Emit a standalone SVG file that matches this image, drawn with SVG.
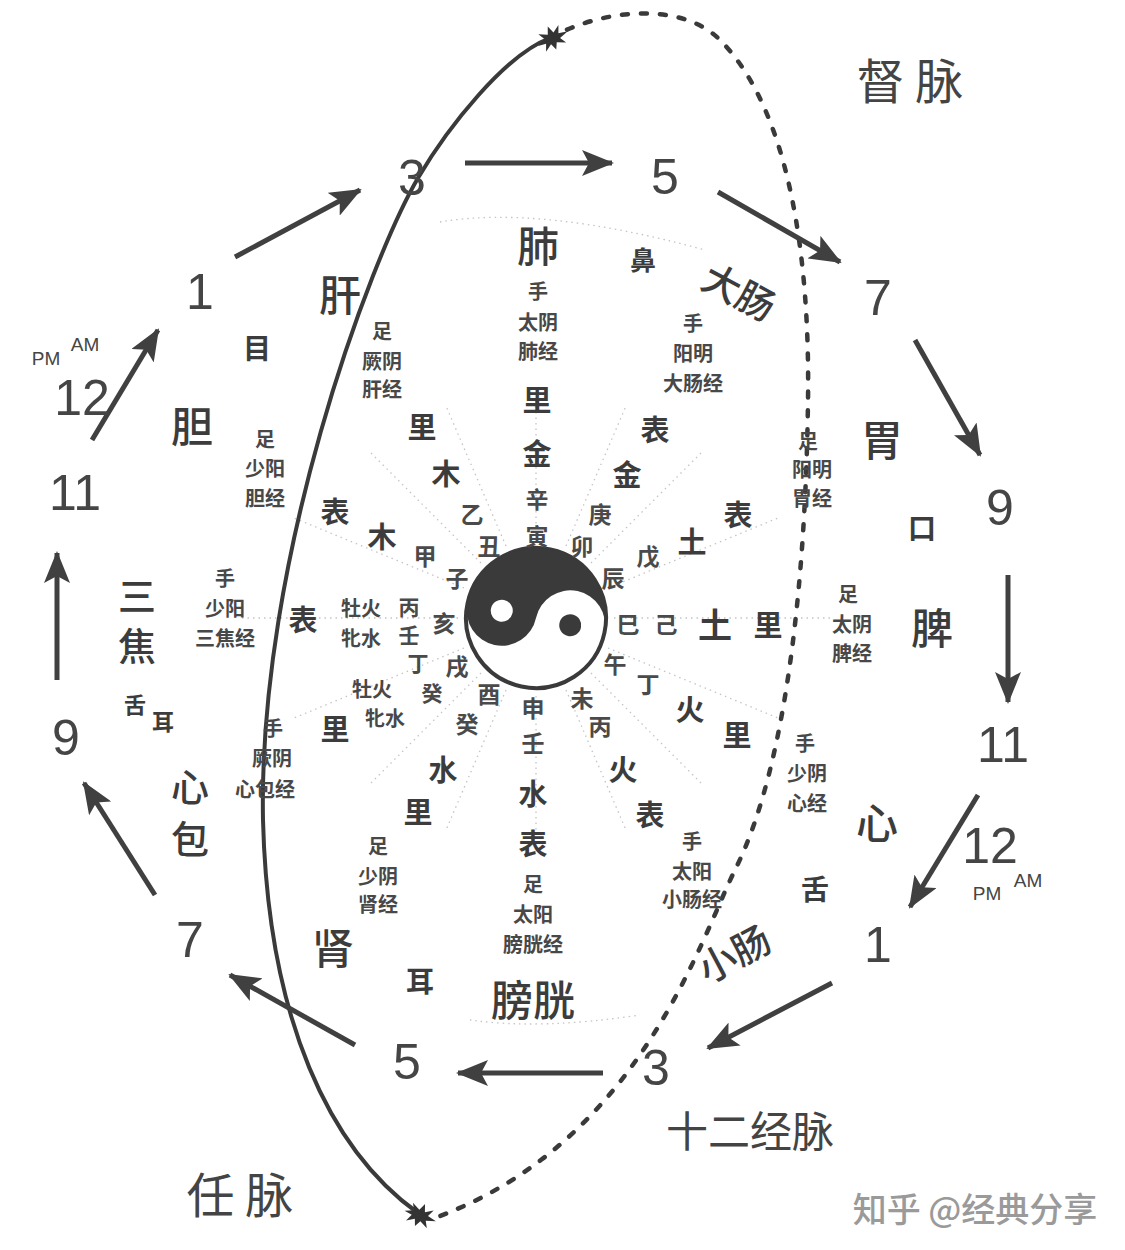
<svg xmlns="http://www.w3.org/2000/svg" width="1125" height="1250" viewBox="0 0 1125 1250">
<defs>
<style>
text{font-family:"Noto Sans CJK SC","Noto Sans",sans-serif;fill:#3c3c3c;text-anchor:middle;dominant-baseline:central}
.n{font-family:"Liberation Sans",Arial,sans-serif;font-size:50px;fill:#454545}
.ap{font-family:"Liberation Sans",Arial,sans-serif;font-size:19px;fill:#454545}
.o{font-size:42px;font-weight:500}
.t{font-size:48px;font-weight:400;fill:#444}
.m{font-size:29px;font-weight:700}
.s{font-size:23px;font-weight:700;fill:#4a4a4a}
.x{font-size:20px;font-weight:700;fill:#484848}
.e{font-size:28px;font-weight:700}
.arr{stroke:#404040;stroke-width:5;fill:none;marker-end:url(#ah)}
.ray{stroke:#c4c4c4;stroke-width:1.3;stroke-dasharray:1.5 4;fill:none}
</style>
<marker id="ah" viewBox="0 0 32 26" refX="30" refY="13" markerWidth="32" markerHeight="26" markerUnits="userSpaceOnUse" orient="auto">
<path d="M0,0 L32,13 L0,26 L7,13 Z" fill="#404040"/>
</marker>
<path id="star" d="M-16,0 L-7,-3 L-10,-10 L-2,-5 L2,-12 L4,-4 L12,-8 L8,-1 L17,2 L7,4 L10,11 L2,6 L-2,12 L-4,5 L-12,9 L-8,2 Z" fill="#333"/>
</defs>

<g id="rays">
<path class="ray" d="M536,618 m0,-78 v-140 M536,618 m30,-72 l60,-140 M536,618 m55,-55 l110,-110 M536,618 m72,-30 l170,-70 M536,618 m78,0 h220 M536,618 m72,30 l170,70 M536,618 m55,55 l110,110 M536,618 m30,72 l60,140 M536,618 m0,78 v140 M536,618 m-30,72 l-60,140 M536,618 m-55,55 l-110,110 M536,618 m-72,30 l-170,70 M536,618 m-78,0 h-220 M536,618 m-72,-30 l-170,-70 M536,618 m-55,-55 l-110,-110 M536,618 m-30,-72 l-60,-140"/>
<path class="ray" d="M440,222 Q540,205 705,250 M470,1020 Q540,1030 640,1015"/>
</g>

<g id="meridians">
<path d="M418,1213 C330,1150 268,1020 263,820 C258,560 370,260 418,178 C448,127 505,55 550,38" stroke="#3a3a3a" stroke-width="4" fill="none"/>
<path d="M550,38 C600,10 680,0 720,40 C790,110 810,260 808,400 C806,560 790,760 735,870 C700,940 640,1140 440,1216" stroke="#3a3a3a" stroke-width="4.5" fill="none" stroke-dasharray="6 13" stroke-linecap="round"/>
<use href="#star" transform="translate(552,38) rotate(-30)"/>
<use href="#star" transform="translate(420,1215) rotate(15)"/>
</g>

<g id="connectors">
<line class="arr" x1="235" y1="257" x2="360" y2="190"/>
<line class="arr" x1="465" y1="163" x2="612" y2="163"/>
<line class="arr" x1="718" y1="192" x2="840" y2="262"/>
<line class="arr" x1="915" y1="340" x2="980" y2="455"/>
<line class="arr" x1="1008" y1="575" x2="1008" y2="702"/>
<line class="arr" x1="978" y1="795" x2="910" y2="907"/>
<line class="arr" x1="832" y1="983" x2="708" y2="1048"/>
<line class="arr" x1="603" y1="1073" x2="458" y2="1073"/>
<line class="arr" x1="355" y1="1045" x2="230" y2="975"/>
<line class="arr" x1="155" y1="895" x2="84" y2="783"/>
<line class="arr" x1="57" y1="680" x2="57" y2="553"/>
<line class="arr" x1="92" y1="440" x2="158" y2="330"/>
</g>

<g id="hours">
<text class="n" x="200" y="292">1</text>
<text class="n" x="412" y="178">3</text>
<text class="n" x="665" y="177">5</text>
<text class="n" x="878" y="298">7</text>
<text class="n" x="1000" y="508">9</text>
<text class="n" x="1003" y="745">11</text>
<text class="n" x="990" y="846">12</text>
<text class="ap" x="987" y="893">PM</text>
<text class="ap" x="1028" y="880">AM</text>
<text class="n" x="878" y="945">1</text>
<text class="n" x="656" y="1068">3</text>
<text class="n" x="407" y="1062">5</text>
<text class="n" x="190" y="940">7</text>
<text class="n" x="66" y="738">9</text>
<text class="n" x="75" y="493">11</text>
<text class="n" x="82" y="398">12</text>
<text class="ap" x="46" y="358">PM</text>
<text class="ap" x="85" y="344">AM</text>
</g>

<g id="titles">
<text class="t" x="910" y="78">督 脉</text>
<text class="t" x="750" y="1128" style="font-size:42px">十二经脉</text>
<text class="t" x="240" y="1192">任 脉</text>
<text x="975" y="1207" style="font-size:34px;fill:#9a9a9a;font-weight:500">知乎 @经典分享</text>
</g>

<g id="taiji" transform="rotate(12 536 618)">
<circle cx="536" cy="618" r="70" fill="#fff" stroke="#3a3a3a" stroke-width="4"/>
<path d="M466,618 A70,70 0 0 1 606,618 A35,35 0 0 0 536,618 A35,35 0 0 1 466,618 Z" fill="#3a3a3a"/>
<circle cx="501" cy="618" r="11" fill="#fff"/>
<circle cx="571" cy="618" r="11" fill="#3a3a3a"/>
</g>

<g id="stems">
<text class="s" x="472" y="513">乙</text>
<text class="s" x="489" y="545">丑</text>
<text class="s" x="537" y="498">辛</text>
<text class="s" x="537" y="535">寅</text>
<text class="s" x="600" y="513">庚</text>
<text class="s" x="582" y="545">卯</text>
<text class="s" x="613" y="577">辰</text>
<text class="s" x="648" y="555">戊</text>
<text class="s" x="628" y="623">巳</text>
<text class="s" x="666" y="623">己</text>
<text class="s" x="615" y="663">午</text>
<text class="s" x="648" y="683">丁</text>
<text class="s" x="582" y="697">未</text>
<text class="s" x="600" y="725">丙</text>
<text class="s" x="533" y="707">申</text>
<text class="s" x="533" y="742">壬</text>
<text class="s" x="489" y="693">酉</text>
<text class="s" x="467" y="723">癸</text>
<text class="s" x="457" y="665">戌</text>
<text class="s" x="418" y="662" style="font-size:21px">丁</text>
<text class="s" x="432" y="692" style="font-size:21px">癸</text>
<text class="s" x="444" y="622">亥</text>
<text class="s" x="409" y="606" style="font-size:21px">丙</text>
<text class="s" x="409" y="634" style="font-size:21px">壬</text>
<text class="x" x="361" y="607">牡火</text>
<text class="x" x="361" y="637">牝水</text>
<text class="x" x="372" y="688">牡火</text>
<text class="x" x="385" y="717">牝水</text>
<text class="s" x="457" y="577">子</text>
<text class="s" x="425" y="555">甲</text>
</g>

<g id="lung">
<text class="o" x="538" y="243">肺</text>
<text class="e" x="643" y="258" style="font-size:26px">鼻</text>
<text class="x" x="538" y="290">手</text>
<text class="x" x="538" y="321">太阴</text>
<text class="x" x="538" y="350">肺经</text>
<text class="m" x="537" y="398">里</text>
<text class="m" x="537" y="452">金</text>
</g>

<g id="large-intestine">
<text class="o" x="740" y="290" transform="rotate(28 740 290)" style="font-size:38px">大肠</text>
<text class="x" x="693" y="322">手</text>
<text class="x" x="693" y="352">阳明</text>
<text class="x" x="693" y="382">大肠经</text>
<text class="m" x="655" y="428">表</text>
<text class="m" x="627" y="473">金</text>
</g>

<g id="stomach">
<text class="o" x="882" y="437">胃</text>
<text class="e" x="922" y="527">口</text>
<text class="x" x="808" y="440">足</text>
<text class="x" x="812" y="468">阳明</text>
<text class="x" x="812" y="497">胃经</text>
<text class="m" x="738" y="513">表</text>
<text class="m" x="692" y="540">土</text>
</g>

<g id="spleen">
<text class="o" x="932" y="625">脾</text>
<text class="x" x="848" y="593">足</text>
<text class="x" x="852" y="623">太阴</text>
<text class="x" x="852" y="652">脾经</text>
<text class="m" x="715" y="623" style="font-size:34px">土</text>
<text class="m" x="768" y="623">里</text>
</g>

<g id="heart">
<text class="o" x="877" y="820">心</text>
<text class="e" x="815" y="888">舌</text>
<text class="x" x="805" y="742">手</text>
<text class="x" x="807" y="772">少阴</text>
<text class="x" x="807" y="802">心经</text>
<text class="m" x="690" y="708">火</text>
<text class="m" x="737" y="733">里</text>
</g>

<g id="small-intestine">
<text class="o" x="733" y="952" transform="rotate(-28 733 952)" style="font-size:38px">小肠</text>
<text class="x" x="692" y="840">手</text>
<text class="x" x="692" y="870">太阳</text>
<text class="x" x="692" y="898">小肠经</text>
<text class="m" x="623" y="768">火</text>
<text class="m" x="650" y="813">表</text>
</g>

<g id="bladder">
<text class="o" x="533" y="997">膀胱</text>
<text class="x" x="533" y="883">足</text>
<text class="x" x="533" y="913">太阳</text>
<text class="x" x="533" y="943">膀胱经</text>
<text class="m" x="533" y="792">水</text>
<text class="m" x="533" y="842">表</text>
</g>

<g id="kidney">
<text class="o" x="333" y="945">肾</text>
<text class="e" x="420" y="980">耳</text>
<text class="x" x="378" y="845">足</text>
<text class="x" x="378" y="875">少阴</text>
<text class="x" x="378" y="903">肾经</text>
<text class="m" x="443" y="768">水</text>
<text class="m" x="418" y="810">里</text>
</g>

<g id="pericardium">
<text class="o" x="190" y="784" style="font-size:38px">心</text>
<text class="o" x="190" y="836" style="font-size:38px">包</text>
<text class="x" x="273" y="727">手</text>
<text class="x" x="272" y="757">厥阴</text>
<text class="x" x="265" y="788">心包经</text>
<text class="m" x="335" y="727">里</text>
</g>

<g id="triple-burner">
<text class="o" x="137" y="593" style="font-size:38px">三</text>
<text class="o" x="137" y="643" style="font-size:38px">焦</text>
<text class="e" x="135" y="703" style="font-size:22px">舌</text>
<text class="e" x="163" y="720" style="font-size:22px">耳</text>
<text class="x" x="225" y="577">手</text>
<text class="x" x="225" y="607">少阳</text>
<text class="x" x="225" y="637">三焦经</text>
<text class="m" x="303" y="618">表</text>
</g>

<g id="gallbladder">
<text class="o" x="192" y="423">胆</text>
<text class="e" x="257" y="347">目</text>
<text class="x" x="265" y="438">足</text>
<text class="x" x="265" y="467">少阳</text>
<text class="x" x="265" y="497">胆经</text>
<text class="m" x="335" y="510">表</text>
<text class="m" x="382" y="535">木</text>
</g>

<g id="liver">
<text class="o" x="340" y="292">肝</text>
<text class="x" x="382" y="330">足</text>
<text class="x" x="382" y="360">厥阴</text>
<text class="x" x="382" y="388">肝经</text>
<text class="m" x="422" y="425">里</text>
<text class="m" x="446" y="472">木</text>
</g>
</svg>
